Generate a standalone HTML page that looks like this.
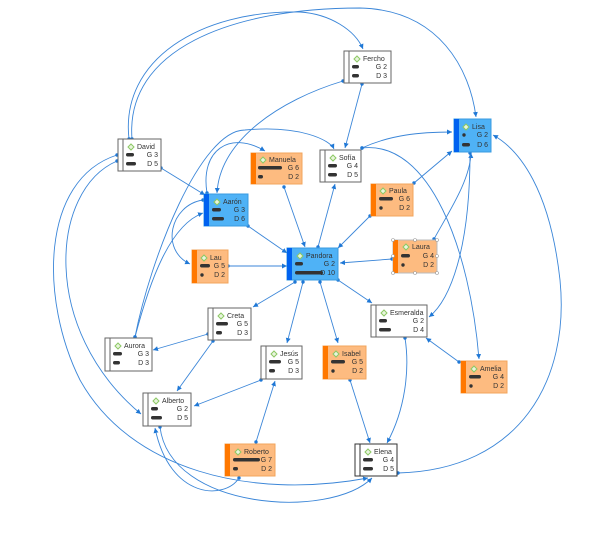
<!DOCTYPE html>
<html><head><meta charset="utf-8"><style>
html,body{margin:0;padding:0;background:#fff}
svg{display:block}
text{font-family:"Liberation Sans",sans-serif;fill:#333}
</style></head><body>
<svg width="601" height="537" viewBox="0 0 601 537" xmlns="http://www.w3.org/2000/svg">
<defs>
<marker id="a" markerWidth="6" markerHeight="6" refX="5" refY="3" orient="auto" markerUnits="userSpaceOnUse"><path d="M0,0.5 L5,3 L0,5.5 Z" fill="#1f78d6"/></marker>
<marker id="d" markerWidth="4" markerHeight="4" refX="2" refY="2" markerUnits="userSpaceOnUse"><circle cx="2" cy="2" r="1.7" fill="#1f78d6"/></marker>
</defs>
<g fill="none" stroke="#3b86d8" stroke-width="0.9" marker-start="url(#d)" marker-end="url(#a)">
<!-- David to Fercho / Lisa -->
<path d="M129,139 C120,60 200,10 300,12 C330,14 355,30 363,49"/>
<path d="M132,139 C125,50 230,8 360,8 C440,10 470,70 476,117"/>
<path d="M161,168 L205,195"/>
<path d="M362,84 L345,148"/>
<path d="M343,81 C280,100 220,140 217,193"/>
<path d="M207,193 C200,150 230,130 265,151"/>
<path d="M135,337 C150,260 200,130 245,130 C300,125 330,140 334,149"/>
<path d="M135,337 C150,280 170,225 203,213"/>
<path d="M203,200 C170,205 160,250 190,264"/>
<path d="M284,187 L305,247"/>
<path d="M318,247 L335,184"/>
<path d="M362,148 C390,135 420,132 452,132"/>
<path d="M362,148 C430,140 470,250 479,359"/>
<path d="M414,183 L452,151"/>
<path d="M370,216 L338,248"/>
<path d="M392,259 L340,263"/>
<path d="M434,239 C450,210 470,180 471,153"/>
<path d="M470,153 C470,250 450,300 429,317"/>
<path d="M398,473 C520,470 570,380 560,280 C550,190 520,150 493,135"/>
<path d="M338,280 L372,303"/>
<path d="M459,362 L426,338"/>
<path d="M405,338 C410,370 405,410 387,443"/>
<path d="M350,380 L370,443"/>
<path d="M320,282 L338,343"/>
<path d="M303,282 L287,343"/>
<path d="M295,282 L253,307"/>
<path d="M228,266 L287,266"/>
<path d="M248,226 L287,253"/>
<path d="M208,334 L153,350"/>
<path d="M213,341 L177,391"/>
<path d="M261,380 L194,406"/>
<path d="M256,442 L275,381"/>
<path d="M117,161 C50,190 40,330 141,414"/>
<path d="M117,155 C40,180 40,300 80,380 C130,470 250,500 368,478"/>
<path d="M239,478 C225,500 170,500 155,428"/>
<path d="M160,427 C170,510 330,520 372,478"/>
</g>
<g id="nodes"></g>
<!-- nodes -->
<g font-size="7">
<!-- white nodes -->
<g><rect x="344" y="51" width="47" height="32" fill="#fff" stroke="#666"/><line x1="349" y1="51" x2="349" y2="83" stroke="#666"/><path d="M357,56 l3,3 -3,3 -3,-3z" fill="#e8f5dd" stroke="#8cc864"/><text x="363" y="61">Fercho</text><rect x="352" y="65" width="7" height="3.5" rx="1.7" fill="#333"/><text x="387" y="69" text-anchor="end">G 2</text><rect x="352" y="74" width="7" height="3.5" rx="1.7" fill="#333"/><text x="387" y="78" text-anchor="end">D 3</text></g>
<g><rect x="118" y="139" width="43" height="32" fill="#fff" stroke="#666"/><line x1="123" y1="139" x2="123" y2="171" stroke="#666"/><path d="M131,144 l3,3 -3,3 -3,-3z" fill="#e8f5dd" stroke="#8cc864"/><text x="137" y="149">David</text><rect x="126" y="153" width="8" height="3.5" rx="1.7" fill="#333"/><text x="158" y="157" text-anchor="end">G 3</text><rect x="126" y="162" width="10" height="3.5" rx="1.7" fill="#333"/><text x="158" y="166" text-anchor="end">D 5</text></g>
<g><rect x="320" y="150" width="41" height="32" fill="#fff" stroke="#666"/><line x1="325" y1="150" x2="325" y2="182" stroke="#666"/><path d="M333,155 l3,3 -3,3 -3,-3z" fill="#e8f5dd" stroke="#8cc864"/><text x="339" y="160">Sofía</text><rect x="328" y="164" width="9" height="3.5" rx="1.7" fill="#333"/><text x="358" y="168" text-anchor="end">G 4</text><rect x="328" y="173" width="9" height="3.5" rx="1.7" fill="#333"/><text x="358" y="177" text-anchor="end">D 5</text></g>
<g><rect x="208" y="308" width="43" height="32" fill="#fff" stroke="#666"/><line x1="213" y1="308" x2="213" y2="340" stroke="#666"/><path d="M221,313 l3,3 -3,3 -3,-3z" fill="#e8f5dd" stroke="#8cc864"/><text x="227" y="318">Creta</text><rect x="216" y="322" width="12" height="3.5" rx="1.7" fill="#333"/><text x="248" y="326" text-anchor="end">G 5</text><rect x="216" y="331" width="6" height="3.5" rx="1.7" fill="#333"/><text x="248" y="335" text-anchor="end">D 3</text></g>
<g><rect x="371" y="305" width="56" height="32" fill="#fff" stroke="#666"/><line x1="376" y1="305" x2="376" y2="337" stroke="#666"/><path d="M384,310 l3,3 -3,3 -3,-3z" fill="#e8f5dd" stroke="#8cc864"/><text x="390" y="315">Esmeralda</text><rect x="379" y="319" width="8" height="3.5" rx="1.7" fill="#333"/><text x="424" y="323" text-anchor="end">G 2</text><rect x="379" y="328" width="12" height="3.5" rx="1.7" fill="#333"/><text x="424" y="332" text-anchor="end">D 4</text></g>
<g><rect x="105" y="338" width="47" height="33" fill="#fff" stroke="#666"/><line x1="110" y1="338" x2="110" y2="371" stroke="#666"/><path d="M118,343 l3,3 -3,3 -3,-3z" fill="#e8f5dd" stroke="#8cc864"/><text x="124" y="348">Aurora</text><rect x="113" y="352" width="9" height="3.5" rx="1.7" fill="#333"/><text x="149" y="356" text-anchor="end">G 3</text><rect x="113" y="361" width="7" height="3.5" rx="1.7" fill="#333"/><text x="149" y="365" text-anchor="end">D 3</text></g>
<g><rect x="261" y="346" width="41" height="33" fill="#fff" stroke="#666"/><line x1="266" y1="346" x2="266" y2="379" stroke="#666"/><path d="M274,351 l3,3 -3,3 -3,-3z" fill="#e8f5dd" stroke="#8cc864"/><text x="280" y="356">Jesús</text><rect x="269" y="360" width="12" height="3.5" rx="1.7" fill="#333"/><text x="299" y="364" text-anchor="end">G 5</text><rect x="269" y="369" width="6" height="3.5" rx="1.7" fill="#333"/><text x="299" y="373" text-anchor="end">D 3</text></g>
<g><rect x="143" y="393" width="48" height="33" fill="#fff" stroke="#666"/><line x1="148" y1="393" x2="148" y2="426" stroke="#666"/><path d="M156,398 l3,3 -3,3 -3,-3z" fill="#e8f5dd" stroke="#8cc864"/><text x="162" y="403">Alberto</text><rect x="151" y="407" width="7" height="3.5" rx="1.7" fill="#333"/><text x="188" y="411" text-anchor="end">G 2</text><rect x="151" y="416" width="11" height="3.5" rx="1.7" fill="#333"/><text x="188" y="420" text-anchor="end">D 5</text></g>
<g><rect x="355" y="444" width="42" height="32" fill="#fff" stroke="#333"/><line x1="360" y1="444" x2="360" y2="476" stroke="#333"/><path d="M368,449 l3,3 -3,3 -3,-3z" fill="#e8f5dd" stroke="#8cc864"/><text x="374" y="454">Elena</text><rect x="363" y="458" width="10" height="3.5" rx="1.7" fill="#333"/><text x="394" y="462" text-anchor="end">G 4</text><rect x="363" y="467" width="10" height="3.5" rx="1.7" fill="#333"/><text x="394" y="471" text-anchor="end">D 5</text></g>
<!-- orange -->
<g><rect x="251" y="153" width="51" height="31" fill="#fdbb80" stroke="#f2a55c"/><rect x="251" y="153" width="5" height="31" fill="#ff7800"/><path d="M263,157 l3,3 -3,3 -3,-3z" fill="#e8f5dd" stroke="#8cc864"/><text x="269" y="162">Manuela</text><rect x="258" y="166" width="24" height="3.5" rx="1.7" fill="#333"/><text x="299" y="170" text-anchor="end">G 6</text><rect x="258" y="175" width="5" height="3.5" rx="1.7" fill="#333"/><text x="299" y="179" text-anchor="end">D 2</text></g>
<g><rect x="371" y="184" width="42" height="32" fill="#fdbb80" stroke="#f2a55c"/><rect x="371" y="184" width="5" height="32" fill="#ff7800"/><path d="M383,188 l3,3 -3,3 -3,-3z" fill="#e8f5dd" stroke="#8cc864"/><text x="389" y="193">Paula</text><rect x="379" y="197" width="14" height="3.5" rx="1.7" fill="#333"/><text x="410" y="201" text-anchor="end">G 6</text><circle cx="381" cy="208" r="1.7" fill="#333"/><text x="410" y="210" text-anchor="end">D 2</text></g>
<g><rect x="393" y="240" width="44" height="33" fill="#fdbb80" stroke="#bbb"/><rect x="393" y="240" width="5" height="33" fill="#ff7800"/><path d="M406,244 l3,3 -3,3 -3,-3z" fill="#e8f5dd" stroke="#8cc864"/><text x="412" y="249">Laura</text><rect x="401" y="254" width="9" height="3.5" rx="1.7" fill="#333"/><text x="434" y="258" text-anchor="end">G 4</text><circle cx="403" cy="265" r="1.7" fill="#333"/><text x="434" y="267" text-anchor="end">D 2</text></g>
<g><rect x="192" y="250" width="36" height="33" fill="#fdbb80" stroke="#f2a55c"/><rect x="192" y="250" width="5" height="33" fill="#ff7800"/><path d="M204,255 l3,3 -3,3 -3,-3z" fill="#e8f5dd" stroke="#8cc864"/><text x="210" y="260">Lau</text><rect x="200" y="264" width="10" height="3.5" rx="1.7" fill="#333"/><text x="225" y="268" text-anchor="end">G 5</text><circle cx="202" cy="275" r="1.7" fill="#333"/><text x="225" y="277" text-anchor="end">D 2</text></g>
<g><rect x="323" y="346" width="43" height="33" fill="#fdbb80" stroke="#f2a55c"/><rect x="323" y="346" width="5" height="33" fill="#ff7800"/><path d="M336,351 l3,3 -3,3 -3,-3z" fill="#e8f5dd" stroke="#8cc864"/><text x="342" y="356">Isabel</text><rect x="331" y="360" width="14" height="3.5" rx="1.7" fill="#333"/><text x="363" y="364" text-anchor="end">G 5</text><circle cx="333" cy="371" r="1.7" fill="#333"/><text x="363" y="373" text-anchor="end">D 2</text></g>
<g><rect x="461" y="361" width="46" height="32" fill="#fdbb80" stroke="#f2a55c"/><rect x="461" y="361" width="5" height="32" fill="#ff7800"/><path d="M474,366 l3,3 -3,3 -3,-3z" fill="#e8f5dd" stroke="#8cc864"/><text x="480" y="371">Amelia</text><rect x="469" y="375" width="12" height="3.5" rx="1.7" fill="#333"/><text x="504" y="379" text-anchor="end">G 4</text><circle cx="471" cy="386" r="1.7" fill="#333"/><text x="504" y="388" text-anchor="end">D 2</text></g>
<g><rect x="225" y="444" width="50" height="32" fill="#fdbb80" stroke="#f2a55c"/><rect x="225" y="444" width="5" height="32" fill="#ff7800"/><path d="M238,449 l3,3 -3,3 -3,-3z" fill="#e8f5dd" stroke="#8cc864"/><text x="244" y="454">Roberto</text><rect x="233" y="458" width="27" height="3.5" rx="1.7" fill="#333"/><text x="272" y="462" text-anchor="end">G 7</text><rect x="233" y="467" width="5" height="3.5" rx="1.7" fill="#333"/><text x="272" y="471" text-anchor="end">D 2</text></g>
<!-- blue -->
<g><rect x="454" y="119" width="37" height="33" fill="#4fb2f6" stroke="#3a9be0"/><rect x="454" y="119" width="5" height="33" fill="#0062f0"/><path d="M466,124 l3,3 -3,3 -3,-3z" fill="#e8f5dd" stroke="#8cc864"/><text x="472" y="129">Lisa</text><circle cx="464" cy="135" r="1.7" fill="#333"/><text x="488" y="137" text-anchor="end">G 2</text><rect x="462" y="143" width="8" height="3.5" rx="1.7" fill="#333"/><text x="488" y="147" text-anchor="end">D 6</text></g>
<g><rect x="204" y="194" width="44" height="32" fill="#4fb2f6" stroke="#3a9be0"/><rect x="204" y="194" width="5" height="32" fill="#0062f0"/><path d="M217,199 l3,3 -3,3 -3,-3z" fill="#e8f5dd" stroke="#8cc864"/><text x="223" y="204">Aarón</text><rect x="212" y="208" width="9" height="3.5" rx="1.7" fill="#333"/><text x="245" y="212" text-anchor="end">G 3</text><rect x="212" y="217" width="12" height="3.5" rx="1.7" fill="#333"/><text x="245" y="221" text-anchor="end">D 6</text></g>
<g><rect x="287" y="248" width="51" height="32" fill="#4fb2f6" stroke="#3a9be0"/><rect x="287" y="248" width="5" height="32" fill="#0062f0"/><path d="M300,253 l3,3 -3,3 -3,-3z" fill="#e8f5dd" stroke="#8cc864"/><text x="306" y="258">Pandora</text><rect x="295" y="262" width="8" height="3.5" rx="1.7" fill="#333"/><text x="335" y="266" text-anchor="end">G 2</text><rect x="295" y="271" width="28" height="3.5" rx="1.7" fill="#333"/><text x="335" y="275" text-anchor="end">D 10</text></g>
</g>
<g fill="#fff" stroke="#999" stroke-width="0.6">
<circle cx="393" cy="240" r="1.5"/><circle cx="415" cy="240" r="1.5"/><circle cx="437" cy="240" r="1.5"/><circle cx="437" cy="256" r="1.5"/><circle cx="437" cy="273" r="1.5"/><circle cx="415" cy="273" r="1.5"/><circle cx="393" cy="273" r="1.5"/><circle cx="393" cy="256" r="1.5"/>
</g>
</svg>
</body></html>
